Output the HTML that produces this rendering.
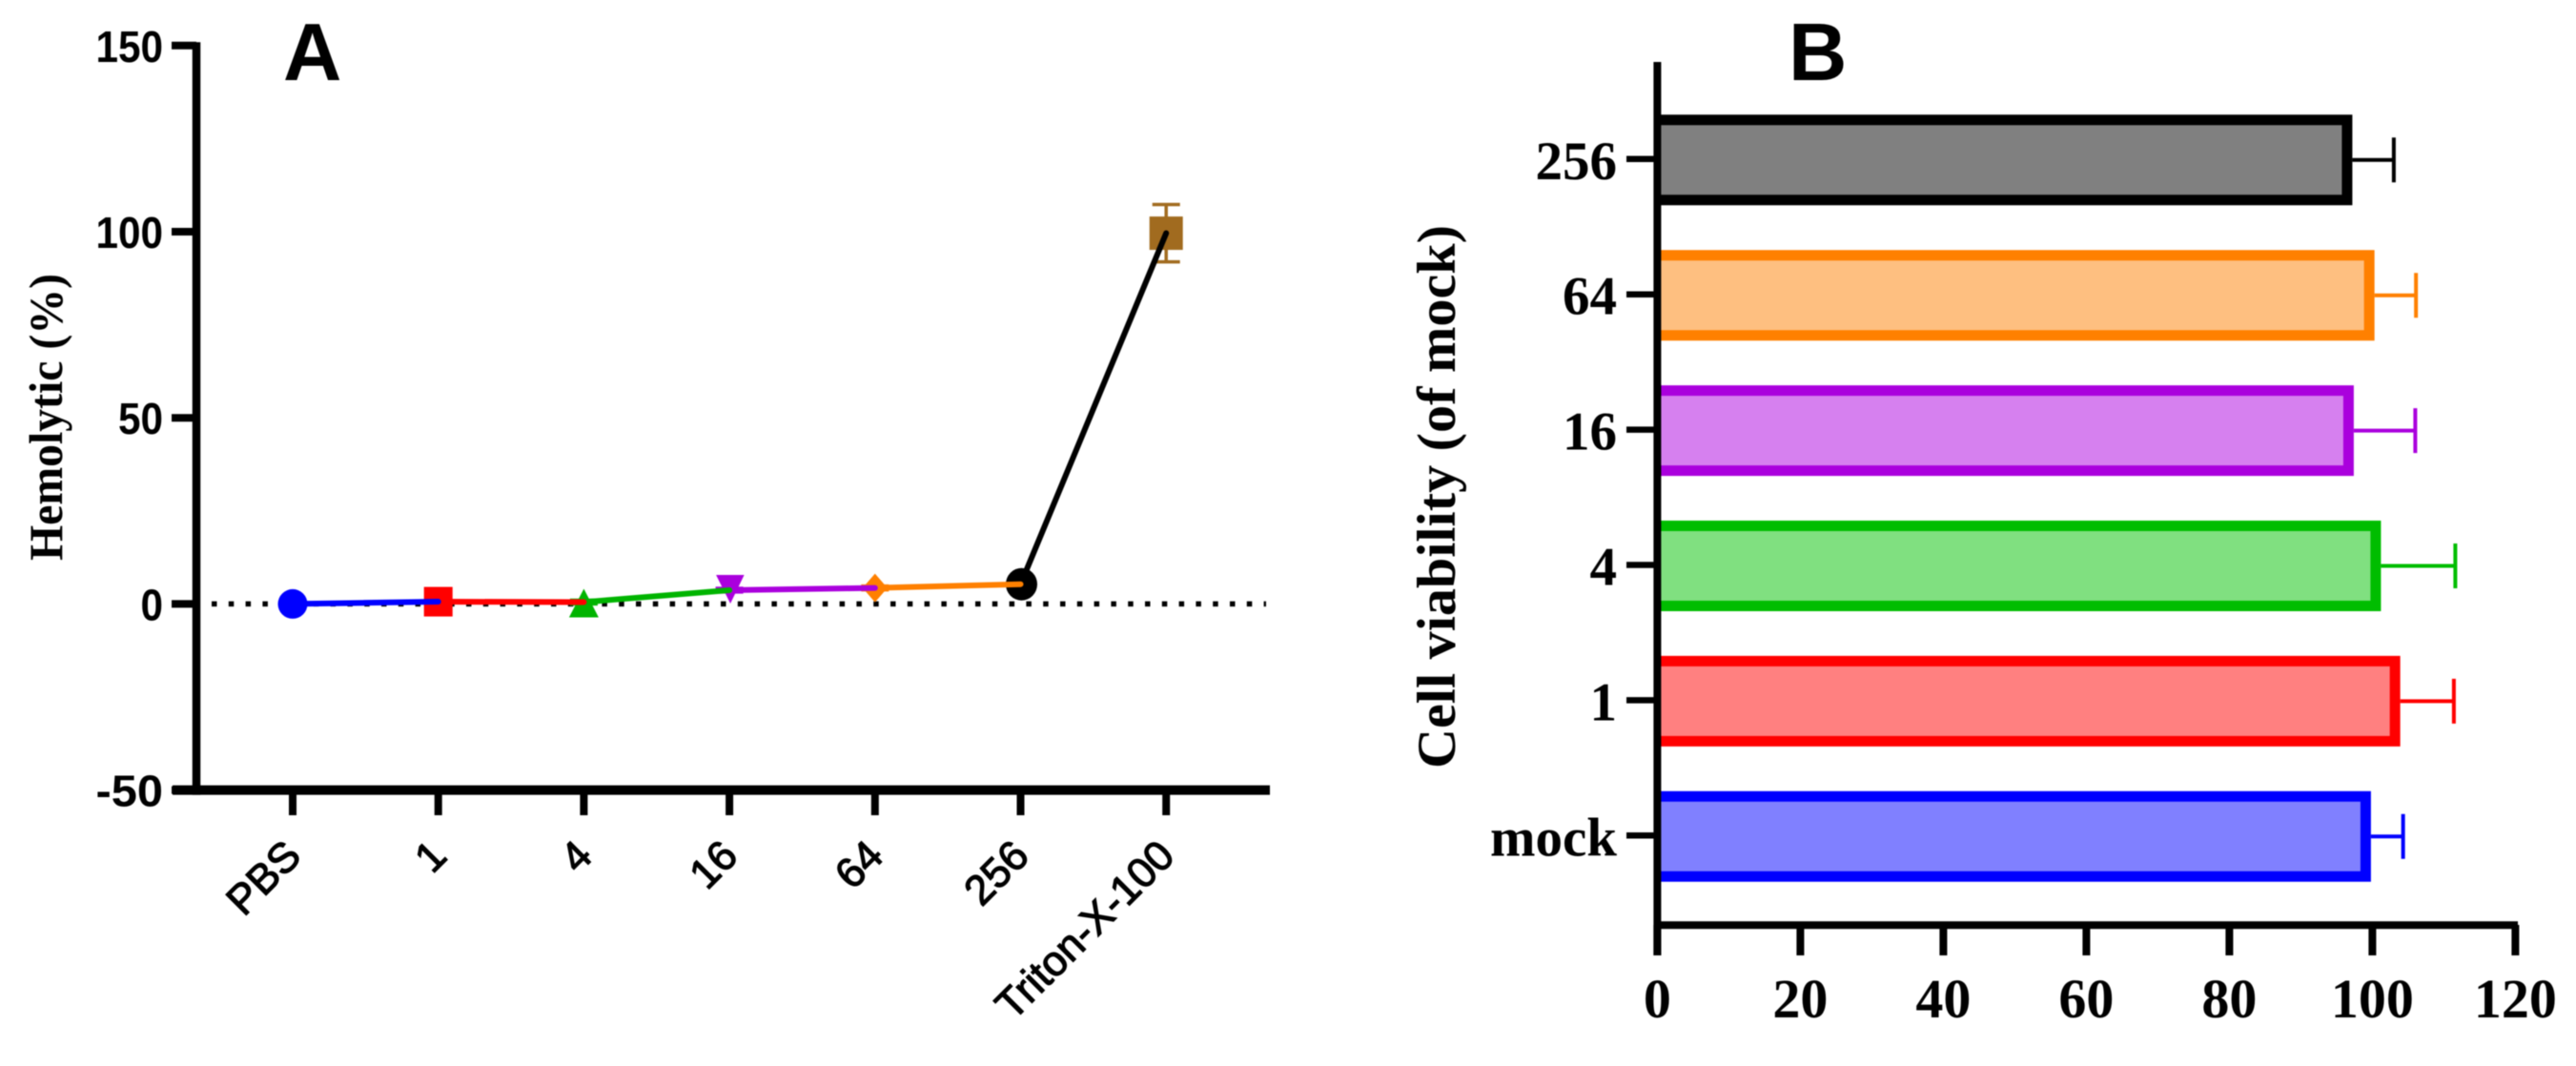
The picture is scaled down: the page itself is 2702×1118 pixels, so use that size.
<!DOCTYPE html>
<html lang="en">
<head>
<meta charset="utf-8">
<title>Hemolysis and cell viability</title>
<style>
html,body{margin:0;padding:0;background:#fff;}
svg{display:block;filter:blur(0.6px);}
.sans{font-family:"Liberation Sans",Arial,sans-serif;}
.serif{font-family:"Liberation Serif","Times New Roman",serif;font-weight:bold;}
</style>
</head>
<body>
<svg id="chart" xmlns="http://www.w3.org/2000/svg" width="2702" height="1118" viewBox="0 0 2702 1118">
  <rect width="2702" height="1118" fill="#ffffff"/>
  <text class="sans" x="297" y="84" font-size="85" font-weight="bold" fill="#000">A</text>
  <text class="sans" x="1876" y="84" font-size="85" font-weight="bold" fill="#000">B</text>
  <text class="serif" transform="translate(65,588) rotate(-90)" font-size="50" fill="#000" textLength="301" lengthAdjust="spacingAndGlyphs">Hemolytic (%)</text>
  <text class="serif" transform="translate(1526,806) rotate(-90)" font-size="57" fill="#000" textLength="570" lengthAdjust="spacingAndGlyphs">Cell viability (of mock)</text>
  <g id="panel-a"></g>
  <g id="panel-b"></g>
</svg>
<script>
const hemoCategories = ['PBS', '1', '4', '16', '64', '256', 'Triton-X-100'];
const hemoValues = [0, 0.6, 0.5, 3.7, 4.3, 5.3, 99.6];
const hemoErrors = [0.5, 0.5, 0.5, 0.5, 0.5, 0.5, 7.7];
const hemoYTicks = [-50, 0, 50, 100, 150];
const hemoColors = ['#0000ff', '#ff0000', '#00b400', '#aa00dd', '#ff8000', '#000000', '#a16b1f'];
const hemoShapes = ['circle', 'square', 'triangle', 'invtriangle', 'diamond', 'circle-lg', 'square-lg'];

const barCategories = ['mock', '1', '4', '16', '64', '256'];
const barValues = [99.8, 103.9, 101.2, 97.4, 100.3, 97.2];
const barErrors = [4.5, 7.5, 10.4, 8.6, 5.8, 5.8];
const barXTicks = [0, 20, 40, 60, 80, 100, 120];
const barStrokes = ['#0000ff', '#ff0000', '#00bd00', '#aa00dd', '#ff8000', '#000000'];
const barFills = ['#8080ff', '#ff8080', '#80e080', '#d680ef', '#febf80', '#808080'];

const NS = 'http://www.w3.org/2000/svg';
function mk(parent, tag, attrs, text) {
  const n = document.createElementNS(NS, tag);
  for (const k in attrs) n.setAttribute(k, attrs[k]);
  if (text !== undefined) n.textContent = text;
  parent.appendChild(n);
  return n;
}

/* ---------- Panel A ---------- */
const A = document.getElementById('panel-a');
const ax = i => 307 + i * 152.7;
const ay = v => 633.4 - v * 3.904;
let el;

el = mk(A, 'line', {x1: 222, x2: 1328, y1: ay(0), y2: ay(0), stroke: '#000', 'stroke-width': 5.5, 'stroke-dasharray': '5.5 12.3'});



el = mk(A, 'line', {x1: 206, x2: 206, y1: ay(150) - 3.5, y2: ay(-50) + 5, stroke: '#000', 'stroke-width': 8.5});



el = mk(A, 'line', {x1: 181, x2: 1332, y1: ay(-50), y2: ay(-50), stroke: '#000', 'stroke-width': 10});



hemoYTicks.forEach(t => {
  el = mk(A, 'line', {x1: 180, x2: 206, y1: ay(t), y2: ay(t), stroke: '#000', 'stroke-width': 8});
  
  
  el = mk(A, 'text', {x: 171, y: ay(t) + 17, 'text-anchor': 'end', 'font-size': 46, class: 'sans', 'font-weight': 'bold', fill: '#000', textLength: String(t).length * 23.5, lengthAdjust: 'spacingAndGlyphs'}, String(t));
  
  
});

hemoCategories.forEach((c, i) => {
  el = mk(A, 'line', {x1: ax(i), x2: ax(i), y1: 830, y2: 855, stroke: '#000', 'stroke-width': 8});
  
  
  el = mk(A, 'text', {transform: 'translate(' + (ax(i) + 11) + ',900) rotate(-45)', 'text-anchor': 'end', 'font-size': 44, class: 'sans', fill: '#000', stroke: '#000', 'stroke-width': 1.2}, c);
  
  
});

function drawMarker(i) {
  const x = ax(i), y = ay(hemoValues[i]), c = hemoColors[i], s = hemoShapes[i];
  let m;
  if (s === 'circle') m = mk(A, 'circle', {cx: x, cy: y, r: 15.5, fill: c});
  else if (s === 'circle-lg') m = mk(A, 'ellipse', {cx: x + 1, cy: y, rx: 16.5, ry: 17, fill: c});
  else if (s === 'square') m = mk(A, 'rect', {x: x - 15, y: y - 15.5, width: 30, height: 31, fill: c});
  else if (s === 'square-lg') m = mk(A, 'rect', {x: x - 17.5, y: y - 17.5, width: 35, height: 35, fill: c});
  else if (s === 'triangle') m = mk(A, 'path', {d: 'M' + x + ' ' + (y - 14) + 'L' + (x + 15.5) + ' ' + (y + 16) + 'L' + (x - 15.5) + ' ' + (y + 16) + 'Z', fill: c});
  else if (s === 'invtriangle') m = mk(A, 'path', {d: 'M' + (x + 1) + ' ' + (y + 14) + 'L' + (x + 15.5) + ' ' + (y - 16) + 'L' + (x - 14) + ' ' + (y - 16) + 'Z', fill: c});
  else m = mk(A, 'path', {d: 'M' + x + ' ' + (y - 15) + 'L' + (x + 13) + ' ' + y + 'L' + x + ' ' + (y + 15) + 'L' + (x - 13) + ' ' + y + 'Z', fill: c});
  
  

  const top = ay(hemoValues[i] + hemoErrors[i]), bot = ay(hemoValues[i] - hemoErrors[i]);
  const bar = mk(A, 'path', {d: 'M' + x + ' ' + top + 'V' + bot + 'M' + (x - 14.5) + ' ' + top + 'H' + (x + 14.5) + 'M' + (x - 14.5) + ' ' + bot + 'H' + (x + 14.5), fill: 'none', stroke: c, 'stroke-width': 3.5});
  
  
}

for (let i = hemoValues.length - 1; i >= 0; i--) {
  drawMarker(i);
  if (i < hemoValues.length - 1) {
    el = mk(A, 'line', {x1: ax(i), y1: ay(hemoValues[i]), x2: ax(i + 1), y2: ay(hemoValues[i + 1]), stroke: hemoColors[i], 'stroke-width': 6, 'stroke-linecap': 'round'});
    
    
  }
}

/* ---------- Panel B ---------- */
const B = document.getElementById('panel-b');
const bx = v => 1738.4 + v * 7.5;
const by = i => 877.3 - i * 141.9;
const barH = 95, barSW = 11;

barCategories.forEach((c, i) => {
  const cy = by(i);
  const top = cy - barH / 2 + barSW / 2, bot = cy + barH / 2 - barSW / 2;
  const right = bx(barValues[i]) - barSW / 2;
  el = mk(B, 'path', {d: 'M' + bx(0) + ' ' + top + 'H' + right + 'V' + bot + 'H' + bx(0), fill: barFills[i], stroke: barStrokes[i], 'stroke-width': barSW});
  
  

  const x0 = bx(barValues[i]), x1 = bx(barValues[i] + barErrors[i]);
  el = mk(B, 'path', {d: 'M' + x0 + ' ' + cy + 'H' + x1 + 'M' + x1 + ' ' + (cy - 23.5) + 'V' + (cy + 23.5), fill: 'none', stroke: barStrokes[i], 'stroke-width': 4});
  
  

  el = mk(B, 'line', {x1: 1706, x2: 1738, y1: cy - 1, y2: cy - 1, stroke: '#000', 'stroke-width': 6.5});
  
  

  el = mk(B, 'text', {x: 1696, y: cy + 20, 'text-anchor': 'end', 'font-size': 57, class: 'serif', fill: '#000'}, c);
  
  
});

el = mk(B, 'line', {x1: 1738.4, x2: 1738.4, y1: 65, y2: 1002, stroke: '#000', 'stroke-width': 8});



el = mk(B, 'line', {x1: 1738, x2: 2641, y1: 970.3, y2: 970.3, stroke: '#000', 'stroke-width': 8});



barXTicks.forEach(t => {
  el = mk(B, 'line', {x1: bx(t), x2: bx(t), y1: 970, y2: 1002, stroke: '#000', 'stroke-width': 8});
  
  
  el = mk(B, 'text', {x: bx(t), y: 1067, 'text-anchor': 'middle', 'font-size': 58, class: 'serif', fill: '#000'}, String(t));
  
  
});
</script>
</body>
</html>
